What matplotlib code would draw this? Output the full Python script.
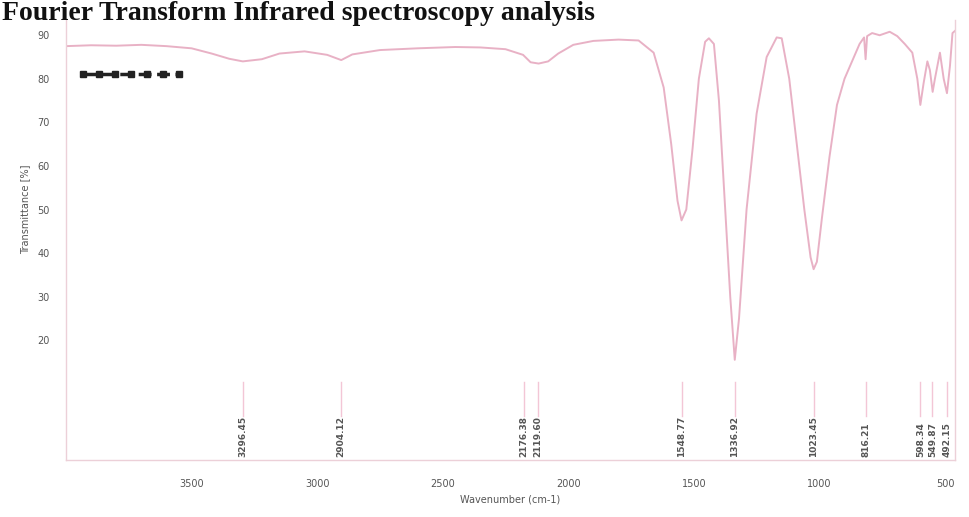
import matplotlib
matplotlib.use("Agg")
import matplotlib.pyplot as plt
from matplotlib.lines import Line2D

# ---- data ----
wavenumber = [4000, 3900, 3800, 3700, 3600, 3500, 3420, 3350, 3296, 3220, 3150, 3050,
              2960, 2904, 2860, 2750, 2600, 2450, 2350, 2250, 2180, 2150, 2118, 2080,
              2040, 1980, 1900, 1800, 1720, 1660, 1620, 1590, 1565, 1549, 1530, 1505,
              1480, 1455, 1440, 1420, 1400, 1375, 1355, 1337, 1320, 1290, 1250, 1210,
              1170, 1150, 1120, 1090, 1060, 1035, 1023, 1010, 990, 960, 930, 900,
              870, 840, 822, 816, 810, 790, 760, 720, 690, 660, 630, 610, 598, 585,
              570, 560, 549, 540, 520, 505, 492, 480, 470, 460]
transmittance = [87.5, 87.7, 87.6, 87.8, 87.5, 87.0, 85.8, 84.6, 84.0, 84.5, 85.8, 86.3,
                 85.5, 84.3, 85.6, 86.6, 87.0, 87.3, 87.2, 86.8, 85.5, 83.8, 83.5, 84.0,
                 85.8, 87.8, 88.7, 89.0, 88.8, 86.0, 78.0, 65.0, 52.0, 47.5, 50.0, 64.0,
                 80.0, 88.5, 89.3, 88.0, 75.0, 50.0, 30.0, 15.5, 25.0, 50.0, 72.0, 85.0,
                 89.5, 89.3, 80.0, 65.0, 50.0, 39.0, 36.3, 38.0, 48.0, 62.0, 74.0, 80.0,
                 84.0, 88.0, 89.5, 84.5, 89.8, 90.5, 90.0, 90.8, 89.8, 88.0, 86.0, 80.0,
                 74.0, 79.0, 84.0, 82.0, 77.0, 80.0, 86.0, 80.0, 76.7, 83.0, 90.5, 91.0]

peak_positions = [3296.45, 2904.12, 2176.38, 2119.60, 1548.77, 1336.92, 1023.45,
                  816.21, 598.34, 549.87, 492.15]
peak_labels = ["3296.45", "2904.12", "2176.38", "2119.60", "1548.77", "1336.92",
               "1023.45", "816.21", "598.34", "549.87", "492.15"]

x_ticks = [3500, 3000, 2500, 2000, 1500, 1000, 500]
y_ticks = [20, 30, 40, 50, 60, 70, 80, 90]

title = "Fourier Transform Infrared spectroscopy analysis"
x_label = "Wavenumber (cm-1)"
y_label = "Transmittance [%]"

# ---- figure ----
fig = plt.figure(figsize=(9.69, 5.17), dpi=100)
ax = fig.add_axes([66 / 969, 57 / 517, 889 / 969, 440 / 517])

spec_color = "#e6a9bf"
ax.plot(wavenumber, transmittance, color=spec_color, lw=1.4, alpha=0.9)

# peak drop lines and labels
for pos, lab in zip(peak_positions, peak_labels):
    ax.plot([pos, pos], [2.5, 10.5], color="#f3c6d6", lw=1.0)
    ax.text(pos, -6.8, lab, rotation=90, ha="center", va="bottom",
            fontsize=6.5, color="#555555", fontweight="bold")

ax.set_xlim(4000, 460)
ax.set_ylim(-7.5, 93.5)
ax.set_xticks(x_ticks)
ax.set_yticks(y_ticks)
ax.tick_params(axis="both", length=0, labelsize=7, colors="#555555")
ax.tick_params(axis="x", pad=14)
ax.tick_params(axis="y", pad=12)

for side in ["left", "right", "bottom"]:
    ax.spines[side].set_color("#ecd0d8")
    ax.spines[side].set_linewidth(1.0)
ax.spines["top"].set_visible(False)

ax.set_xlabel(x_label, fontsize=7, color="#555555", labelpad=4)
ax.set_ylabel(y_label, fontsize=7, color="#555555")
ax.yaxis.set_label_coords(-0.04, 0.57)

# legend
handle = Line2D([], [], color="#222222", lw=2.5, ls="--", marker="s",
                markersize=5)
ax.legend(handles=[handle], labels=[""], loc="upper left",
          bbox_to_anchor=(0.0, 0.92), numpoints=7, handlelength=7.5,
          frameon=False, handletextpad=0.0)

fig.text(2 / 969, 1 - 14 / 517, title, fontsize=20, fontweight="bold",
         family="Liberation Serif", ha="left", va="center", color="#111111")

fig.savefig("out.png", dpi=100)
